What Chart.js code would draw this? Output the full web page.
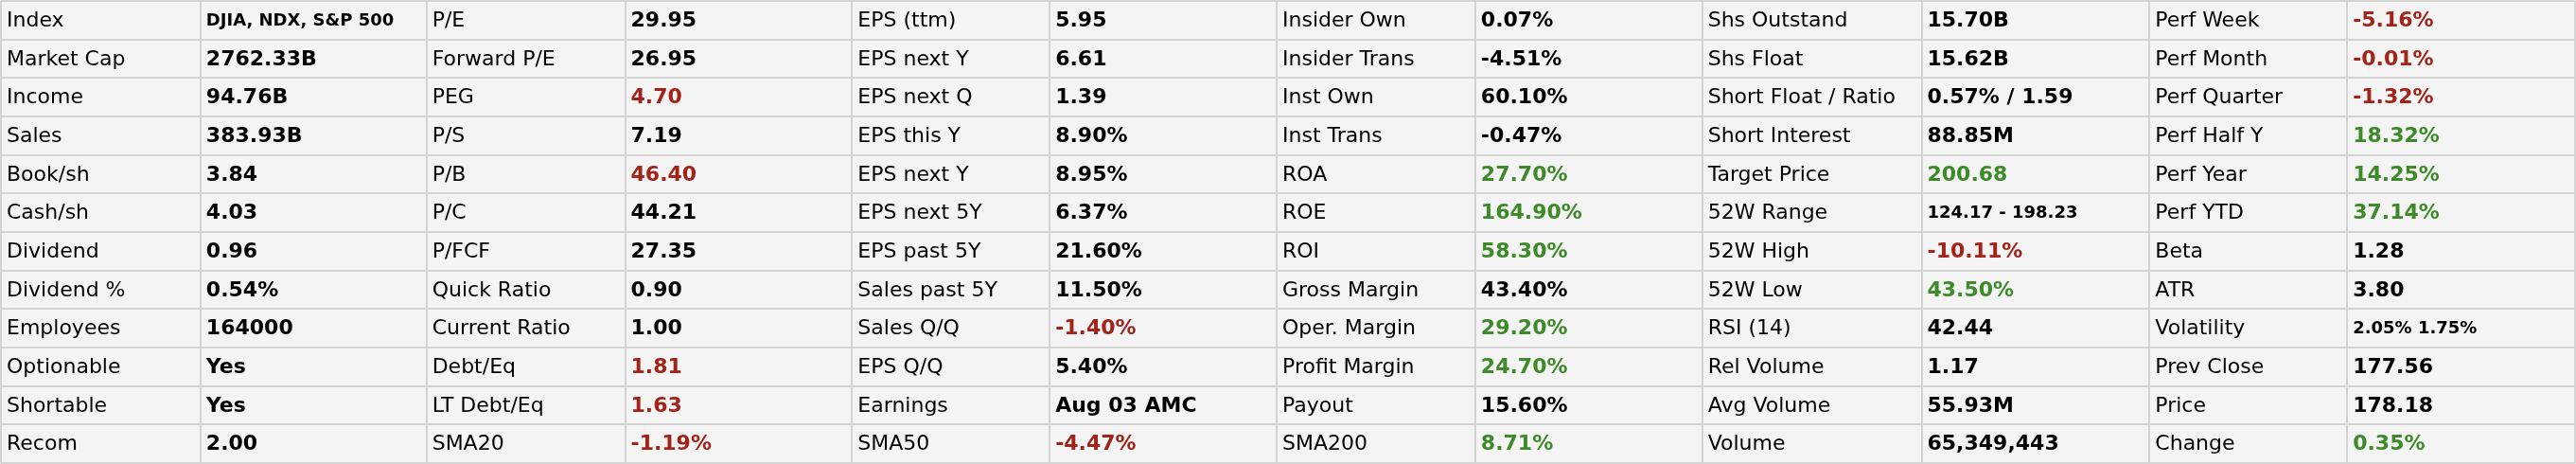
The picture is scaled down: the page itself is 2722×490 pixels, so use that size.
<!DOCTYPE html>
<html lang="en">
<head>
    <meta charset="UTF-8">
    <title>Snapshot</title>
    <style>
        html, body {
            margin: 0;
            padding: 0;
            background-color: #f4f4f4;
            overflow: hidden;
        }
        .wrap {
            width: 2722px;
            height: 490px;
            position: relative;
        }
    </style>
</head>
<body>
    <div class="wrap">
        <canvas id="snapshot"></canvas>
    </div>

    <script src="https://cdn.jsdelivr.net/npm/chart.js"></script>
    <script>
// table contents, one pair of columns (label / value) at a time
const rows = ['r1', 'r2', 'r3', 'r4', 'r5', 'r6', 'r7', 'r8', 'r9', 'r10', 'r11', 'r12'];

const labels1 = ['Index', 'Market Cap', 'Income', 'Sales', 'Book/sh', 'Cash/sh', 'Dividend', 'Dividend %', 'Employees', 'Optionable', 'Shortable', 'Recom'];
const values1 = ['DJIA, NDX, S&P 500', '2762.33B', '94.76B', '383.93B', '3.84', '4.03', '0.96', '0.54%', '164000', 'Yes', 'Yes', '2.00'];
const tones1 = ['n', 'n', 'n', 'n', 'n', 'n', 'n', 'n', 'n', 'n', 'n', 'n'];

const labels2 = ['P/E', 'Forward P/E', 'PEG', 'P/S', 'P/B', 'P/C', 'P/FCF', 'Quick Ratio', 'Current Ratio', 'Debt/Eq', 'LT Debt/Eq', 'SMA20'];
const values2 = ['29.95', '26.95', '4.70', '7.19', '46.40', '44.21', '27.35', '0.90', '1.00', '1.81', '1.63', '-1.19%'];
const tones2 = ['n', 'n', 'r', 'n', 'r', 'n', 'n', 'n', 'n', 'r', 'r', 'r'];

const labels3 = ['EPS (ttm)', 'EPS next Y', 'EPS next Q', 'EPS this Y', 'EPS next Y', 'EPS next 5Y', 'EPS past 5Y', 'Sales past 5Y', 'Sales Q/Q', 'EPS Q/Q', 'Earnings', 'SMA50'];
const values3 = ['5.95', '6.61', '1.39', '8.90%', '8.95%', '6.37%', '21.60%', '11.50%', '-1.40%', '5.40%', 'Aug 03 AMC', '-4.47%'];
const tones3 = ['n', 'n', 'n', 'n', 'n', 'n', 'n', 'n', 'r', 'n', 'n', 'r'];

const labels4 = ['Insider Own', 'Insider Trans', 'Inst Own', 'Inst Trans', 'ROA', 'ROE', 'ROI', 'Gross Margin', 'Oper. Margin', 'Profit Margin', 'Payout', 'SMA200'];
const values4 = ['0.07%', '-4.51%', '60.10%', '-0.47%', '27.70%', '164.90%', '58.30%', '43.40%', '29.20%', '24.70%', '15.60%', '8.71%'];
const tones4 = ['n', 'n', 'n', 'n', 'g', 'g', 'g', 'n', 'g', 'g', 'n', 'g'];

const labels5 = ['Shs Outstand', 'Shs Float', 'Short Float / Ratio', 'Short Interest', 'Target Price', '52W Range', '52W High', '52W Low', 'RSI (14)', 'Rel Volume', 'Avg Volume', 'Volume'];
const values5 = ['15.70B', '15.62B', '0.57% / 1.59', '88.85M', '200.68', '124.17 - 198.23', '-10.11%', '43.50%', '42.44', '1.17', '55.93M', '65,349,443'];
const tones5 = ['n', 'n', 'n', 'n', 'g', 'n', 'r', 'g', 'n', 'n', 'n', 'n'];

const labels6 = ['Perf Week', 'Perf Month', 'Perf Quarter', 'Perf Half Y', 'Perf Year', 'Perf YTD', 'Beta', 'ATR', 'Volatility', 'Prev Close', 'Price', 'Change'];
const values6 = ['-5.16%', '-0.01%', '-1.32%', '18.32%', '14.25%', '37.14%', '1.28', '3.80', '2.05% 1.75%', '177.56', '178.18', '0.35%'];
const tones6 = ['r', 'r', 'r', 'g', 'g', 'g', 'n', 'n', 'n', 'n', 'n', 'g'];

// values printed in the smaller font
const smallValues = ['DJIA, NDX, S&P 500', '124.17 - 198.23', '2.05% 1.75%'];

// layout: relative width of each of the 12 columns
const colWidths = [211, 239, 210, 240, 209, 240, 210, 240, 232, 241, 209, 241];
const toneColors = { n: '#000000', r: '#a2231a', g: '#3d8b28' };

const colEdges = [0];
colWidths.forEach(w => colEdges.push(colEdges[colEdges.length - 1] + w));

const pairs = [
    [labels1, values1, tones1],
    [labels2, values2, tones2],
    [labels3, values3, tones3],
    [labels4, values4, tones4],
    [labels5, values5, tones5],
    [labels6, values6, tones6]
];

const datasets = [];
pairs.forEach(([labels, values, tones], p) => {
    datasets.push({
        kind: 'label',
        texts: labels,
        tones: labels.map(() => 'n'),
        data: rows.map(r => ({ x: colEdges[p * 2], y: r }))
    });
    datasets.push({
        kind: 'value',
        texts: values,
        tones: tones,
        data: rows.map(r => ({ x: colEdges[p * 2 + 1], y: r }))
    });
});

// draws the cell texts at the points placed by the scales
const cellText = {
    id: 'cellText',
    beforeDraw(chart) {
        const ctx = chart.ctx;
        ctx.save();
        ctx.fillStyle = '#f4f4f4';
        ctx.fillRect(0, 0, chart.width, chart.height);
        ctx.restore();
    },
    afterDatasetsDraw(chart) {
        const ctx = chart.ctx;
        ctx.save();
        ctx.textBaseline = 'middle';
        ctx.textAlign = 'left';
        chart.data.datasets.forEach((ds, i) => {
            const meta = chart.getDatasetMeta(i);
            meta.data.forEach((pt, j) => {
                const txt = ds.texts[j];
                if (ds.kind === 'label') {
                    ctx.font = '22px "DejaVu Sans"';
                } else if (smallValues.includes(txt)) {
                    ctx.font = 'bold 18px "DejaVu Sans"';
                } else {
                    ctx.font = 'bold 22px "DejaVu Sans"';
                }
                ctx.fillStyle = toneColors[ds.tones[j]];
                ctx.fillText(txt, pt.x + 6, pt.y + 1);
            });
        });
        ctx.restore();
    }
};

new Chart(document.getElementById('snapshot'), {
    type: 'scatter',
    data: { datasets: datasets },
    plugins: [cellText],
    options: {
        responsive: true,
        maintainAspectRatio: false,
        animation: false,
        events: [],
        layout: { padding: { top: 1, left: 1, right: 1, bottom: 1 } },
        elements: { point: { radius: 0, hoverRadius: 0 } },
        plugins: {
            legend: { display: false },
            tooltip: { enabled: false }
        },
        scales: {
            x: {
                type: 'linear',
                min: 0,
                max: colEdges[colEdges.length - 1],
                afterBuildTicks: scale => {
                    scale.ticks = colEdges.map(v => ({ value: v }));
                },
                ticks: { display: false },
                border: { display: false },
                grid: { color: '#d4d4d4', lineWidth: 2, drawTicks: false }
            },
            y: {
                type: 'category',
                labels: rows,
                offset: true,
                ticks: { display: false },
                border: { display: false },
                grid: { offset: true, color: '#d4d4d4', lineWidth: 2, drawTicks: false }
            }
        }
    }
});
    </script>
</body>
</html>
